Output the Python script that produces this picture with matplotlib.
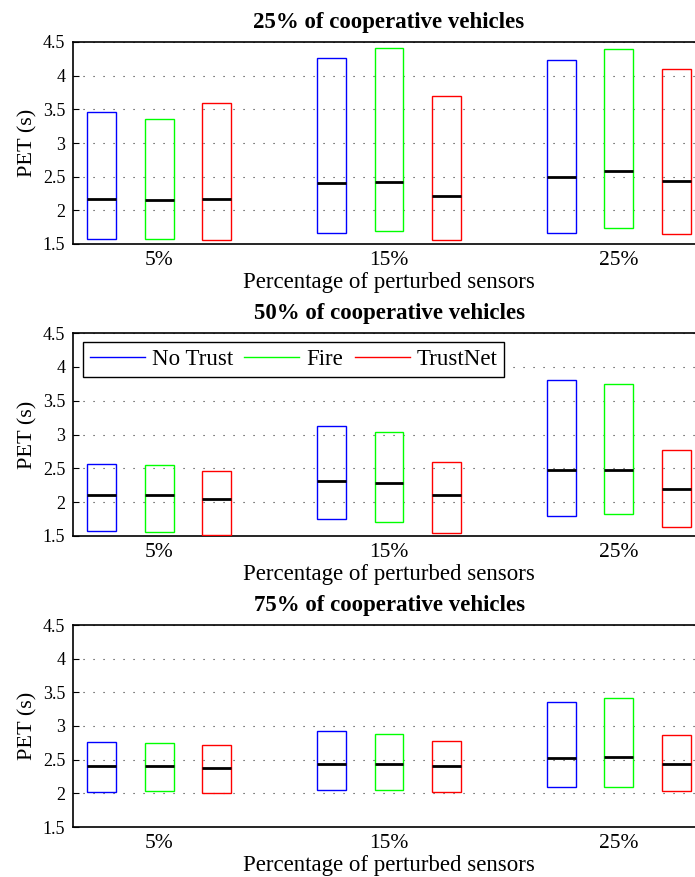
import numpy as np
import matplotlib
matplotlib.use("Agg")
import matplotlib.pyplot as plt
from matplotlib.lines import Line2D

plt.rcParams['font.family'] = ['Liberation Serif', 'DejaVu Serif']

groups = ['5%', '15%', '25%']
methods = ['No Trust', 'Fire', 'TrustNet']
colors = ['#0000ff', '#00ff00', '#ff0000']
panel_titles = ['25% of cooperative vehicles',
                '50% of cooperative vehicles',
                '75% of cooperative vehicles']

# [panel][group][method] -> (low, median, high)
low_25 = [[1.57, 1.57, 1.56], [1.67, 1.70, 1.56], [1.67, 1.74, 1.65]]
med_25 = [[2.17, 2.15, 2.17], [2.41, 2.42, 2.21], [2.49, 2.59, 2.43]]
high_25 = [[3.46, 3.35, 3.60], [4.26, 4.41, 3.70], [4.24, 4.40, 4.10]]

low_50 = [[1.58, 1.56, 1.52], [1.75, 1.71, 1.55], [1.80, 1.83, 1.64]]
med_50 = [[2.11, 2.10, 2.04], [2.31, 2.28, 2.11], [2.47, 2.47, 2.20]]
high_50 = [[2.57, 2.55, 2.46], [3.13, 3.03, 2.59], [3.80, 3.74, 2.77]]

low_75 = [[2.02, 2.04, 2.00], [2.05, 2.05, 2.02], [2.09, 2.10, 2.04]]
med_75 = [[2.40, 2.40, 2.38], [2.44, 2.43, 2.40], [2.52, 2.54, 2.44]]
high_75 = [[2.76, 2.745, 2.72], [2.92, 2.88, 2.78], [3.35, 3.42, 2.87]]

lows = [low_25, low_50, low_75]
meds = [med_25, med_50, med_75]
highs = [high_25, high_50, high_75]

yticks = [1.5, 2, 2.5, 3, 3.5, 4, 4.5]
ytick_labels = ['1.5', '2', '2.5', '3', '3.5', '4', '4.5']

W, H = 695, 877
fig = plt.figure(figsize=(W / 100, H / 100), dpi=100)

# axes boxes in pixels (left, top, right, bottom); right edge runs past the canvas
boxes_px = [(73, 42, 705, 244), (73, 333, 705, 536), (73, 625, 705, 827)]

offset = 0.25
bw = 0.125
gpos = np.arange(1, len(groups) + 1)

for p in range(3):
    l, t, r, b = boxes_px[p]
    ax = fig.add_axes([l / W, 1 - b / H, (r - l) / W, (b - t) / H])
    for m in range(len(methods)):
        x = gpos + (m - 1) * offset
        lo = np.array([lows[p][g][m] for g in range(len(groups))])
        hi = np.array([highs[p][g][m] for g in range(len(groups))])
        md = np.array([meds[p][g][m] for g in range(len(groups))])
        ax.bar(x, hi - lo, bottom=lo, width=bw, fill=False,
               edgecolor=colors[m], linewidth=1.0, zorder=3)
        ax.hlines(md, x - bw / 2, x + bw / 2, colors='black',
                  linewidth=2.0, zorder=4)

    ax.set_xlim(0.625, 3.375)
    ax.set_ylim(1.5, 4.5)
    ax.set_yticks(yticks)
    ax.set_yticklabels(ytick_labels)
    ax.set_xticks(gpos)
    ax.set_xticklabels(groups)
    ax.tick_params(axis='y', direction='in', length=4, labelsize=13, pad=5.5)
    ax.tick_params(axis='x', length=0, labelsize=15.5, pad=5)
    ax.yaxis.grid(True, color='#333333', linestyle=(0, (1, 8)), linewidth=0.8)
    ax.set_axisbelow(True)
    for s in ax.spines.values():
        s.set_linewidth(1.2)
    ax.set_ylabel('PET (s)', fontsize=16, labelpad=4)
    ax.set_xlabel('Percentage of perturbed sensors', fontsize=16.5, labelpad=1.5)
    ax.set_title(panel_titles[p], fontsize=16.5, fontweight='bold', pad=10)

    if p == 1:
        handles = [Line2D([], [], color=c, linewidth=1.0) for c in colors]
        leg = ax.legend(handles, methods, ncol=3, fontsize=16.5,
                        loc='upper left', bbox_to_anchor=(10 / 632, 1 - 9 / 203),
                        frameon=True, fancybox=False, framealpha=1,
                        edgecolor='black', handlelength=2.4,
                        columnspacing=0.5, handletextpad=0.3,
                        borderpad=0.3, borderaxespad=0)
        leg.get_frame().set_linewidth(1.0)

fig.savefig('out.png', dpi=100)
